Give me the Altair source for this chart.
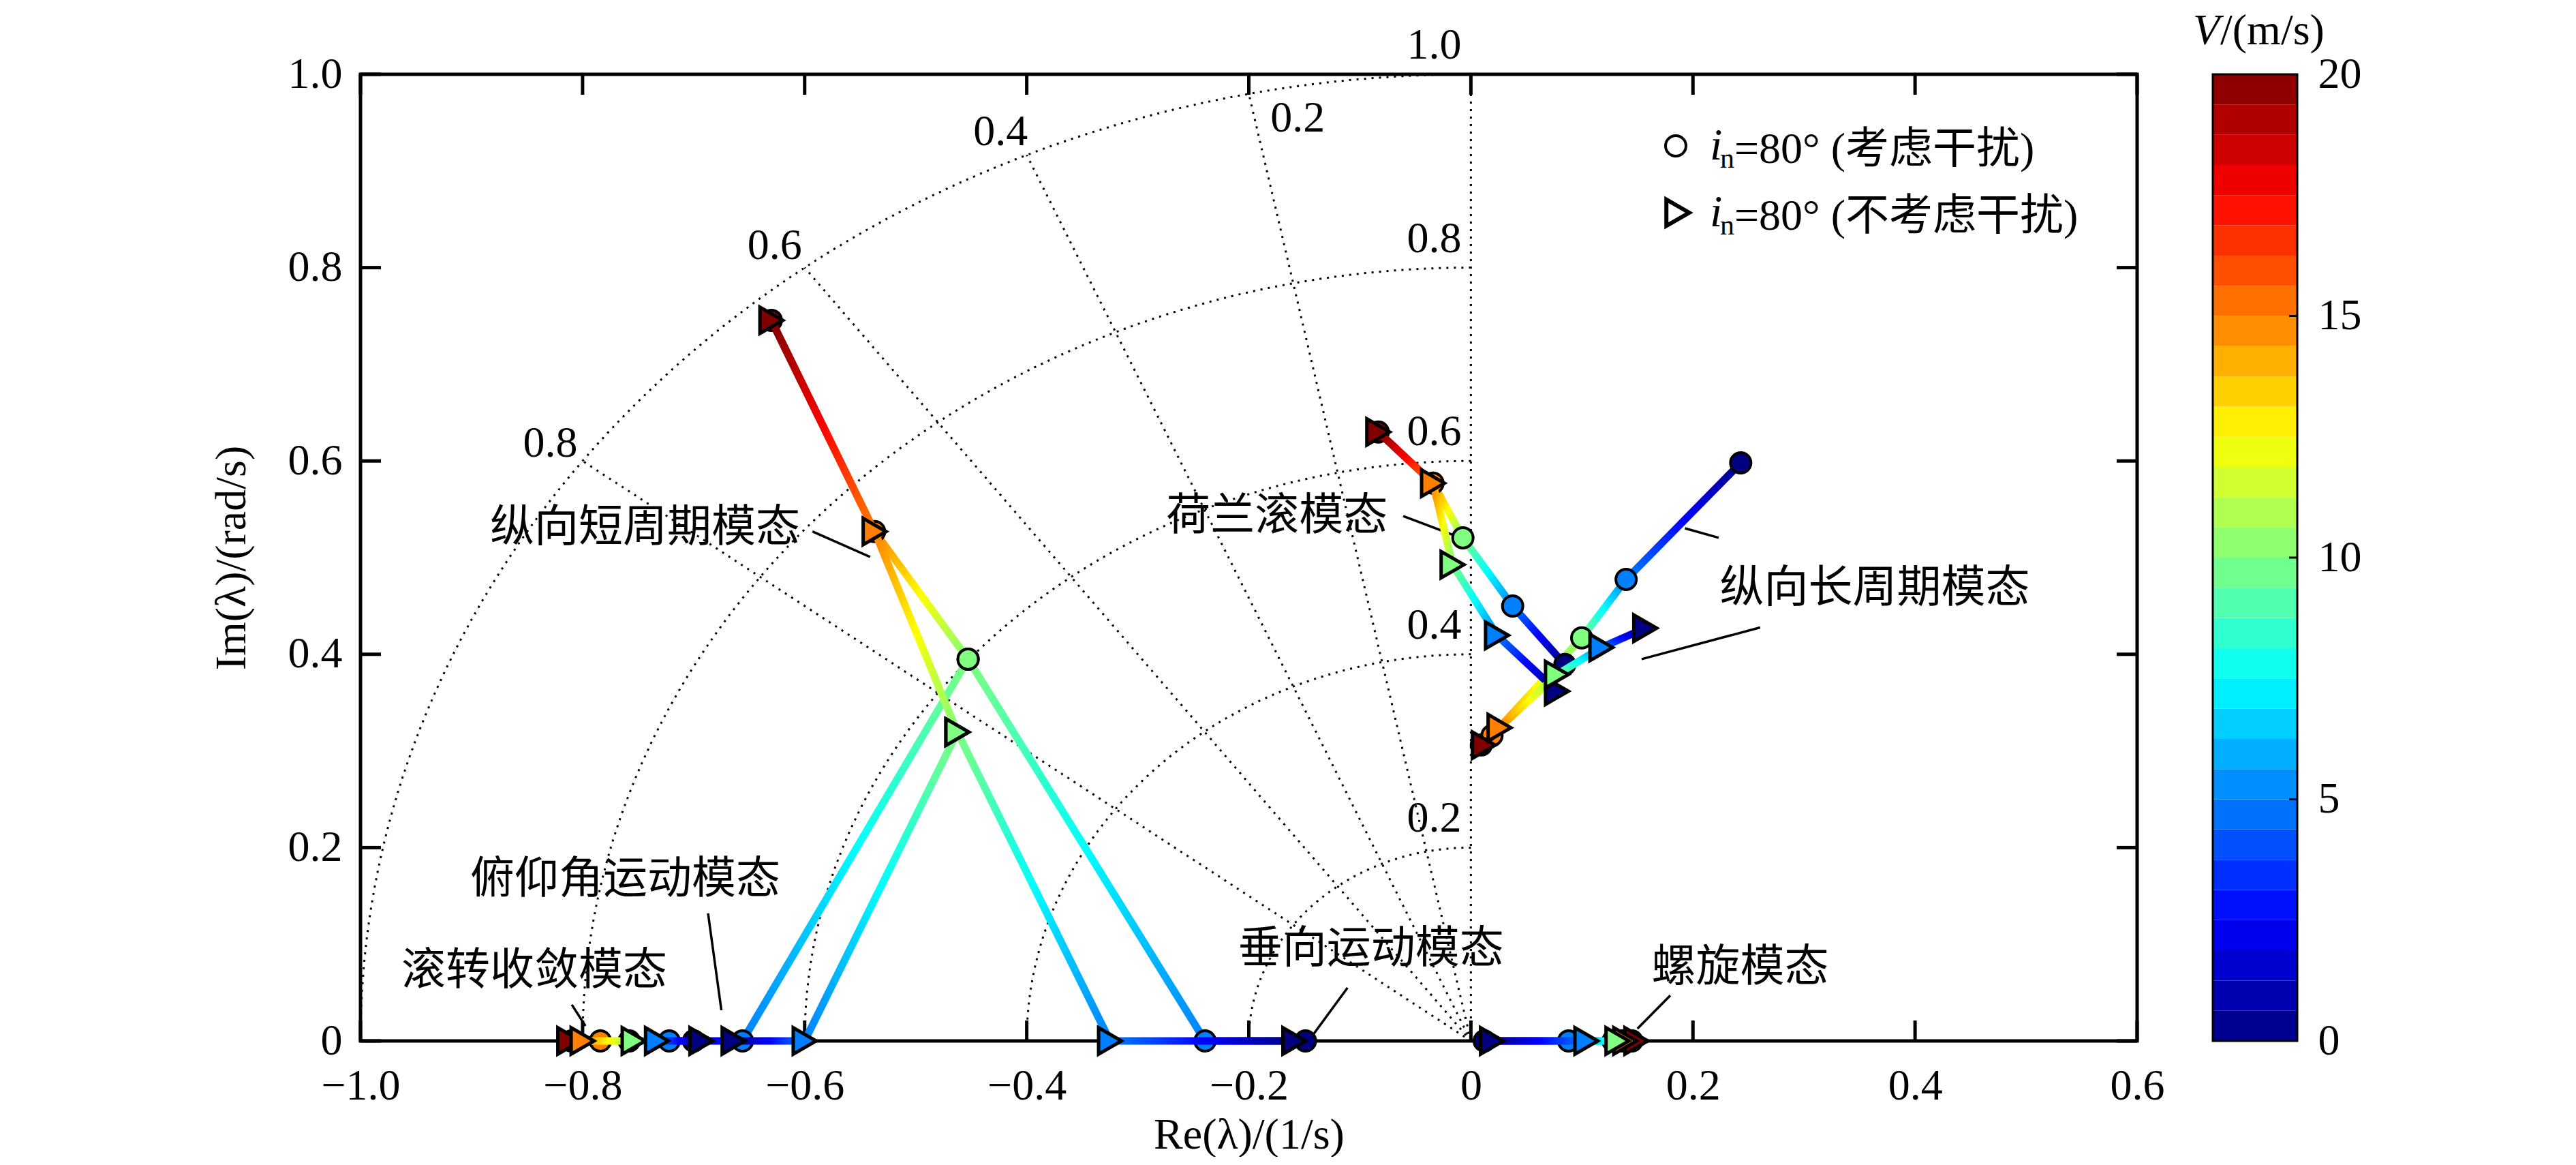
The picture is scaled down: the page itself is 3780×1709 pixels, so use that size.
import altair as alt
import numpy as np
import pandas as pd

# ---------------- data ----------------
V_LEVELS = [20, 15, 10, 5, 0]      # speed at each marker (m/s)
V_SPLIT = [10, 5, 0]               # second real branch after the complex pair splits

# i_n = 80 deg, with interference (circles)
C_SP_RE = [-0.630, -0.537, -0.4528, -0.656, -0.700]
C_SP_IM = [0.7455, 0.527, 0.395, 0.0, 0.0]
C_HEAVE_RE = [-0.4528, -0.2394, -0.149]
C_HEAVE_IM = [0.395, 0.0, 0.0]
C_ROLL_RE = [-0.810, -0.784, -0.758, -0.722, -0.700]
C_SPIRAL_RE = [0.145, 0.136, 0.128, 0.088, 0.012]
C_DUTCH_RE = [-0.0834, -0.0341, -0.0072, 0.0376, 0.0846]
C_DUTCH_IM = [0.630, 0.577, 0.5205, 0.4499, 0.3894]
C_PHUG_RE = [0.0094, 0.019, 0.0998, 0.1398, 0.243]
C_PHUG_IM = [0.3063, 0.316, 0.417, 0.4775, 0.598]

# i_n = 80 deg, without interference (triangles)
T_SP_RE = [-0.630, -0.537, -0.4625, -0.600, -0.664]
T_SP_IM = [0.7455, 0.527, 0.3195, 0.0, 0.0]
T_HEAVE_RE = [-0.4625, -0.325, -0.159]
T_HEAVE_IM = [0.3195, 0.0, 0.0]
T_ROLL_RE = [-0.812, -0.800, -0.754, -0.733, -0.693]
T_SPIRAL_RE = [0.149, 0.139, 0.132, 0.104, 0.019]
T_DUTCH_RE = [-0.0834, -0.0341, -0.0165, 0.0235, 0.0775]
T_DUTCH_IM = [0.630, 0.577, 0.4927, 0.4196, 0.3618]
T_PHUG_RE = [0.0117, 0.0258, 0.0775, 0.1175, 0.157]
T_PHUG_IM = [0.306, 0.324, 0.379, 0.407, 0.427]

ZERO5 = [0.0, 0.0, 0.0, 0.0, 0.0]

X_TICKS = [-1.0, -0.8, -0.6, -0.4, -0.2, 0.0, 0.2, 0.4, 0.6]
Y_TICKS = [0.0, 0.2, 0.4, 0.6, 0.8, 1.0]
CB_TICKS = [0, 5, 10, 15, 20]
CB_INNER_TICKS = [5, 10, 15]
CB_LEVELS = 32

OMEGA = [0.2, 0.4, 0.6, 0.8, 1.0]
ZETA = [0.0, 0.2, 0.4, 0.6, 0.8]
ZETA_LABEL_TEXT = ["0.2", "0.4", "0.6", "0.8"]
ZETA_LABEL_X = [-0.156, -0.4236, -0.627, -0.829]
ZETA_LABEL_Y = [0.954, 0.940, 0.822, 0.618]

ANN_TEXT = ["纵向短周期模态", "荷兰滚模态", "纵向长周期模态", "俯仰角运动模态",
            "滚转收敛模态", "垂向运动模态", "螺旋模态"]
ANN_X = [-0.8834, -0.2744, 0.2241, -0.9012, -0.9632, -0.2096, 0.1627]
ANN_Y = [0.531, 0.543, 0.468, 0.167, 0.0723, 0.0955, 0.0762]

LEAD_X1 = [-0.593, -0.061, 0.1928, 0.1538, -0.687, -0.8097, -0.1111, 0.1796]
LEAD_Y1 = [0.527, 0.543, 0.5303, 0.395, 0.132, 0.0375, 0.055, 0.047]
LEAD_X2 = [-0.541, -0.0117, 0.2232, 0.2605, -0.675, -0.7974, -0.1443, 0.150]
LEAD_Y2 = [0.5007, 0.5216, 0.5205, 0.4277, 0.0317, 0.0155, 0.003, 0.0127]

LEGEND_TEXT = ["=80° (考虑干扰)", "=80° (不考虑干扰)"]

# ---------------- styling ----------------
W, H = 2607, 1418
LW = 11
LATIN = "Liberation Serif"
CJK = "Noto Sans CJK SC"
MIX = "Liberation Serif, Noto Sans CJK SC"
BG = "white"

JET_V = [0, 2.5, 7.5, 12.5, 17.5, 20]
JET_HEX = ["#000080", "#0000ff", "#00ffff", "#ffff00", "#ff0000", "#800000"]
JET_RGB = [tuple(int(h[i:i + 2], 16) for i in (1, 3, 5)) for h in JET_HEX]


def jet_hex(v):
    r = np.interp(v, JET_V, [c[0] for c in JET_RGB])
    g = np.interp(v, JET_V, [c[1] for c in JET_RGB])
    b = np.interp(v, JET_V, [c[2] for c in JET_RGB])
    return "#%02x%02x%02x" % (int(round(r)), int(round(g)), int(round(b)))


jet_scale = alt.Scale(domain=JET_V, range=JET_HEX, interpolate="rgb")

xs = alt.Scale(domain=[-1.0, 0.6], nice=False, zero=False)
ys = alt.Scale(domain=[0.0, 1.0], nice=False, zero=False)
zero_expr = "datum.value == 0 ? '0' : format(datum.value, '.1f')"
x_axis = alt.Axis(values=X_TICKS, title="Re(λ)/(1/s)", labelExpr=zero_expr,
                  ticks=False, tickSize=0, domain=False, grid=False,
                  labelFont=LATIN, labelFontSize=64, labelPadding=34,
                  labelFlush=False, labelOverlap=False, labelColor="black",
                  titleFont=LATIN, titleFontSize=64, titleFontWeight="normal",
                  titlePadding=8, titleColor="black")
y_axis = alt.Axis(values=Y_TICKS, title="Im(λ)/(rad/s)", labelExpr=zero_expr,
                  ticks=False, tickSize=0, domain=False, grid=False,
                  labelFont=LATIN, labelFontSize=64, labelPadding=27,
                  labelFlush=False, labelOverlap=False, labelColor="black",
                  titleFont=LATIN, titleFontSize=64, titleFontWeight="normal",
                  titlePadding=50, titleColor="black")
X = alt.X("x:Q", scale=xs, axis=x_axis)
Y = alt.Y("y:Q", scale=ys, axis=y_axis)
X2 = alt.X2("x2:Q")
Y2 = alt.Y2("y2:Q")

layers = []

# ---- s-plane grid: natural-frequency arcs ----
arc_rows = []
for w in OMEGA:
    for i, th in enumerate(np.linspace(np.pi / 2, np.pi, 91)):
        arc_rows.append({"x": w * np.cos(th), "y": w * np.sin(th), "w": w, "i": i})
arc_df = pd.DataFrame(arc_rows)
layers.append(alt.Chart(arc_df).mark_line(color="black", strokeWidth=3, strokeDash=[3, 8])
              .encode(x=X, y=Y, detail="w:N", order="i:Q"))

# ---- damping-ratio rays ----
ray_df = pd.DataFrame({"x": [0.0] * len(ZETA), "y": [0.0] * len(ZETA),
                       "x2": [-z for z in ZETA], "y2": [np.sqrt(1 - z * z) for z in ZETA]})
layers.append(alt.Chart(ray_df).mark_rule(color="black", strokeWidth=3, strokeDash=[3, 8])
              .encode(x=X, y=Y, x2=X2, y2=Y2))

# ---- grid labels ----
om_df = pd.DataFrame({"x": [0.0] * len(OMEGA), "y": OMEGA, "t": ["%.1f" % w for w in OMEGA]})
layers.append(alt.Chart(om_df).mark_text(align="right", baseline="middle", dx=-14, dy=-42,
                                         font=LATIN, fontSize=64, color="black")
              .encode(x=X, y=Y, text="t:N"))
ze_df = pd.DataFrame({"x": ZETA_LABEL_X, "y": ZETA_LABEL_Y, "t": ZETA_LABEL_TEXT})
layers.append(alt.Chart(ze_df).mark_text(align="center", baseline="middle",
                                         font=LATIN, fontSize=64, color="black")
              .encode(x=X, y=Y, text="t:N"))

# ---- inward ticks on all four sides ----
TL = 30
bt = pd.DataFrame({"x": X_TICKS, "y": [0.0] * len(X_TICKS), "y2": [0.0] * len(X_TICKS)})
tt = pd.DataFrame({"x": X_TICKS, "y": [1.0] * len(X_TICKS), "y2": [1.0] * len(X_TICKS)})
lt = pd.DataFrame({"y": Y_TICKS, "x": [-1.0] * len(Y_TICKS), "x2": [-1.0] * len(Y_TICKS)})
rt = pd.DataFrame({"y": Y_TICKS, "x": [0.6] * len(Y_TICKS), "x2": [0.6] * len(Y_TICKS)})
layers.append(alt.Chart(bt).mark_rule(color="black", strokeWidth=5, y2Offset=-TL).encode(x=X, y=Y, y2=Y2))
layers.append(alt.Chart(tt).mark_rule(color="black", strokeWidth=5, y2Offset=TL).encode(x=X, y=Y, y2=Y2))
layers.append(alt.Chart(lt).mark_rule(color="black", strokeWidth=5, x2Offset=TL).encode(x=X, y=Y, x2=X2))
layers.append(alt.Chart(rt).mark_rule(color="black", strokeWidth=5, x2Offset=-TL).encode(x=X, y=Y, x2=X2))

# ---- annotations ----
lead_df = pd.DataFrame({"x": LEAD_X1, "y": LEAD_Y1, "x2": LEAD_X2, "y2": LEAD_Y2})
layers.append(alt.Chart(lead_df).mark_rule(color="black", strokeWidth=3.5)
              .encode(x=X, y=Y, x2=X2, y2=Y2))
ann_df = pd.DataFrame({"x": ANN_X, "y": ANN_Y, "t": ANN_TEXT})
layers.append(alt.Chart(ann_df).mark_text(align="left", baseline="middle", font=CJK,
                                          fontSize=65, color="black")
              .encode(x=X, y=Y, text="t:N"))


# ---- loci with colour gradient along each segment ----
def stops(va, vb, n=9):
    return [alt.GradientStop(offset=float(t), color=jet_hex(va + (vb - va) * t))
            for t in np.linspace(0, 1, n)]


def segment_layers(re, im, vs):
    out = []
    for k in range(len(re) - 1):
        xa, ya, va = re[k], im[k], vs[k]
        xb, yb, vb = re[k + 1], im[k + 1], vs[k + 1]
        df = pd.DataFrame({"x": [xa], "y": [ya], "x2": [xb], "y2": [yb]})
        gx1 = 0 if xa < xb else 1
        if abs(ya - yb) < 1e-12:
            g = alt.LinearGradient(gradient="linear", stops=stops(va, vb),
                                   x1=gx1, x2=1 - gx1, y1=0, y2=0)
            out.append(alt.Chart(df).mark_rect(fill=g, yOffset=-LW / 2, y2Offset=LW / 2)
                       .encode(x=X, x2=X2, y=Y, y2=Y2))
        else:
            gy1 = 0 if ya > yb else 1
            g = alt.LinearGradient(gradient="linear", stops=stops(va, vb),
                                   x1=gx1, x2=1 - gx1, y1=gy1, y2=1 - gy1)
            out.append(alt.Chart(df).mark_rule(stroke=g, strokeWidth=LW, strokeCap="round")
                       .encode(x=X, y=Y, x2=X2, y2=Y2))
    return out


def markers(branches):
    rows = []
    for re, im, vs in branches:
        for a, b, v in zip(re, im, vs):
            rows.append({"x": a, "y": b, "v": v})
    return pd.DataFrame(rows)


circ = [(C_SP_RE, C_SP_IM, V_LEVELS), (C_HEAVE_RE, C_HEAVE_IM, V_SPLIT),
        (C_ROLL_RE, ZERO5, V_LEVELS), (C_SPIRAL_RE, ZERO5, V_LEVELS),
        (C_DUTCH_RE, C_DUTCH_IM, V_LEVELS), (C_PHUG_RE, C_PHUG_IM, V_LEVELS)]
tri = [(T_SP_RE, T_SP_IM, V_LEVELS), (T_HEAVE_RE, T_HEAVE_IM, V_SPLIT),
       (T_ROLL_RE, ZERO5, V_LEVELS), (T_SPIRAL_RE, ZERO5, V_LEVELS),
       (T_DUTCH_RE, T_DUTCH_IM, V_LEVELS), (T_PHUG_RE, T_PHUG_IM, V_LEVELS)]

for br in circ:
    layers += segment_layers(*br)
layers.append(alt.Chart(markers(circ)).mark_point(shape="circle", filled=True, size=900,
                                                   stroke="black", strokeWidth=4, opacity=1)
              .encode(x=X, y=Y, fill=alt.Fill("v:Q", scale=jet_scale, legend=None)))
for br in tri:
    layers += segment_layers(*br)
layers.append(alt.Chart(markers(tri)).mark_point(shape="triangle-right", filled=True, size=1500,
                                                  stroke="black", strokeWidth=5, opacity=1)
              .encode(x=X, y=Y, fill=alt.Fill("v:Q", scale=jet_scale, legend=None)))

# ---- legend (inside, top right) ----
one = pd.DataFrame({"k": [0]})
LG_X, LG_Y, LG_DY = 1930, 105, 98
for row, shape in enumerate(["circle", "triangle-right"]):
    yc = LG_Y + row * LG_DY
    layers.append(alt.Chart(one).mark_point(shape=shape, filled=False, size=900 if row == 0 else 1500,
                                            stroke="black", strokeWidth=4 if row == 0 else 6, opacity=1)
                  .encode(x=alt.value(LG_X + 3 * row), y=alt.value(yc)))
    layers.append(alt.Chart(one).mark_text(text="i", align="left", baseline="alphabetic",
                                           font=LATIN, fontStyle="italic", fontSize=66, color="black")
                  .encode(x=alt.value(LG_X + 50), y=alt.value(yc + 20)))
    layers.append(alt.Chart(one).mark_text(text="n", align="left", baseline="alphabetic",
                                           font=LATIN, fontSize=42, color="black")
                  .encode(x=alt.value(LG_X + 65), y=alt.value(yc + 32)))
    layers.append(alt.Chart(one).mark_text(text=LEGEND_TEXT[row], align="left", baseline="alphabetic",
                                           font=MIX, fontSize=64, color="black")
                  .encode(x=alt.value(LG_X + 86), y=alt.value(yc + 25)))

main = alt.layer(*layers)

# ---------------- colour bar ----------------
CB_LEFT, CB_RIGHT = W + 111, W + 235
edges = np.linspace(0, 20, CB_LEVELS + 1)
cb_df = pd.DataFrame({"lo": edges[:-1], "hi": edges[1:], "mid": (edges[:-1] + edges[1:]) / 2})
cb_scale = alt.Scale(domain=[0, 20], nice=False, zero=False)
cb_axis = alt.Axis(orient="right", offset=CB_RIGHT - W, values=CB_TICKS, format="d",
                   ticks=False, tickSize=0, domain=False, grid=False, title=None,
                   labelFont=LATIN, labelFontSize=64, labelPadding=30, labelFlush=False,
                   labelColor="black")
CBY = alt.Y("lo:Q", scale=cb_scale, axis=cb_axis)
cb_rects = alt.Chart(cb_df).mark_rect(strokeWidth=0).encode(
    x=alt.value(CB_LEFT), x2=alt.value(CB_RIGHT), y=CBY, y2=alt.Y2("hi:Q"),
    fill=alt.Fill("mid:Q", scale=jet_scale, legend=None))
cb_frame = alt.Chart(pd.DataFrame({"lo": [0.0], "hi": [20.0]})).mark_rect(
    fillOpacity=0, stroke="black", strokeWidth=3).encode(
    x=alt.value(CB_LEFT), x2=alt.value(CB_RIGHT), y=CBY, y2=alt.Y2("hi:Q"))
cb_ticks = alt.Chart(pd.DataFrame({"lo": CB_INNER_TICKS})).mark_rule(
    color="black", strokeWidth=3).encode(
    x=alt.value(CB_RIGHT - 12), x2=alt.value(CB_RIGHT), y=CBY)
cb_t1 = alt.Chart(one).mark_text(text="V", align="right", baseline="alphabetic", font=LATIN,
                                 fontStyle="italic", fontSize=64, color="black").encode(
    x=alt.value(CB_LEFT + 10), y=alt.value(-44))
cb_t2 = alt.Chart(one).mark_text(text="/(m/s)", align="left", baseline="alphabetic", font=LATIN,
                                 fontSize=64, color="black").encode(
    x=alt.value(CB_LEFT + 11), y=alt.value(-44))
cbar = alt.layer(cb_rects, cb_frame, cb_ticks, cb_t1, cb_t2)

chart = (alt.layer(main, cbar)
         .resolve_scale(y="independent")
         .properties(width=W, height=H, background=BG,
                     padding={"left": 300, "top": 6, "right": 10, "bottom": 0})
         .configure_view(stroke="black", strokeWidth=5))

chart.save("out.html", embed_options={"renderer": "svg", "actions": False})
